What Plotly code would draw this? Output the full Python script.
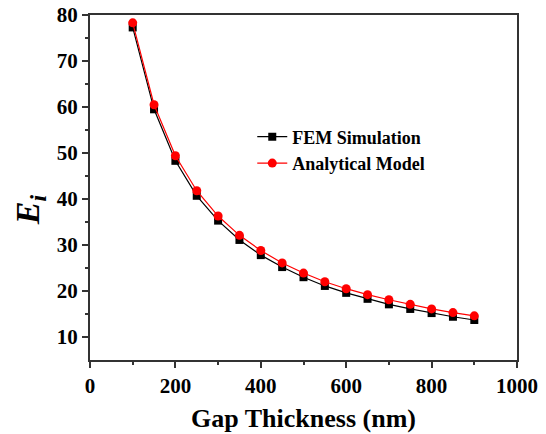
import plotly.graph_objects as go

gap_nm = [100, 150, 200, 250, 300, 350, 400, 450, 500, 550, 600, 650, 700, 750, 800, 850, 900]
fem_sim = [77.3, 59.5, 48.3, 40.7, 35.3, 31.1, 27.8, 25.2, 23.0, 21.1, 19.6, 18.3, 17.1, 16.1, 15.2, 14.4, 13.7]
analytical = [78.3, 60.5, 49.4, 41.8, 36.3, 32.1, 28.8, 26.1, 23.9, 22.0, 20.5, 19.2, 18.1, 17.1, 16.1, 15.3, 14.6]
x_ticks = [0, 200, 400, 600, 800, 1000]
y_ticks = [10, 20, 30, 40, 50, 60, 70, 80]

font_family = "Liberation Serif"

fig = go.Figure()
fig.add_trace(go.Scatter(x=gap_nm, y=fem_sim, mode="lines+markers", name="<b>FEM Simulation</b>",
                         line=dict(color="black", width=1.2),
                         marker=dict(symbol="square", size=8, color="black")))
fig.add_trace(go.Scatter(x=gap_nm, y=analytical, mode="lines+markers", name="<b>Analytical Model</b>",
                         line=dict(color="red", width=1.2),
                         marker=dict(symbol="circle", size=9, color="red")))

axis_common = dict(showline=True, linecolor="#333", linewidth=2, mirror=True,
                   ticks="outside", ticklen=6, tickwidth=2, tickcolor="#333",
                   showgrid=False, zeroline=False, automargin=False,
                   tickfont=dict(family=font_family, size=21, color="black"))

fig.update_xaxes(range=[0, 1000], tickvals=x_ticks,
                 ticktext=[f"<b>{v}</b>" for v in x_ticks],
                 minor=dict(tickvals=[100, 300, 500, 700, 900], ticks="outside", ticklen=3, tickwidth=1.5, tickcolor="#333"),
                 title=dict(text="<b>Gap Thickness (nm)</b>", font=dict(family=font_family, size=26, color="black"), standoff=12),
                 **axis_common)
fig.update_yaxes(range=[5, 80], tickvals=y_ticks,
                 ticktext=[f"<b>{v}</b>" for v in y_ticks],
                 minor=dict(tickvals=[15, 25, 35, 45, 55, 65, 75], ticks="outside", ticklen=3, tickwidth=1.5, tickcolor="#333"),
                 **axis_common)

fig.add_annotation(text="<b><i>E<sub>i</sub></i></b>", xref="paper", yref="paper",
                   x=-0.14, y=0.435, xanchor="center", yanchor="middle", textangle=-90,
                   showarrow=False, font=dict(family=font_family, size=34, color="black"))

fig.update_layout(width=546, height=434, margin=dict(l=90, r=29, t=15, b=74),
                  plot_bgcolor="white", paper_bgcolor="white",
                  legend=dict(x=0.38, y=0.70, xanchor="left", yanchor="top", bgcolor="rgba(0,0,0,0)",
                              font=dict(family=font_family, size=18, color="black"),
                              itemwidth=30, tracegroupgap=0),
                  showlegend=True)

fig.write_html("out.html")
